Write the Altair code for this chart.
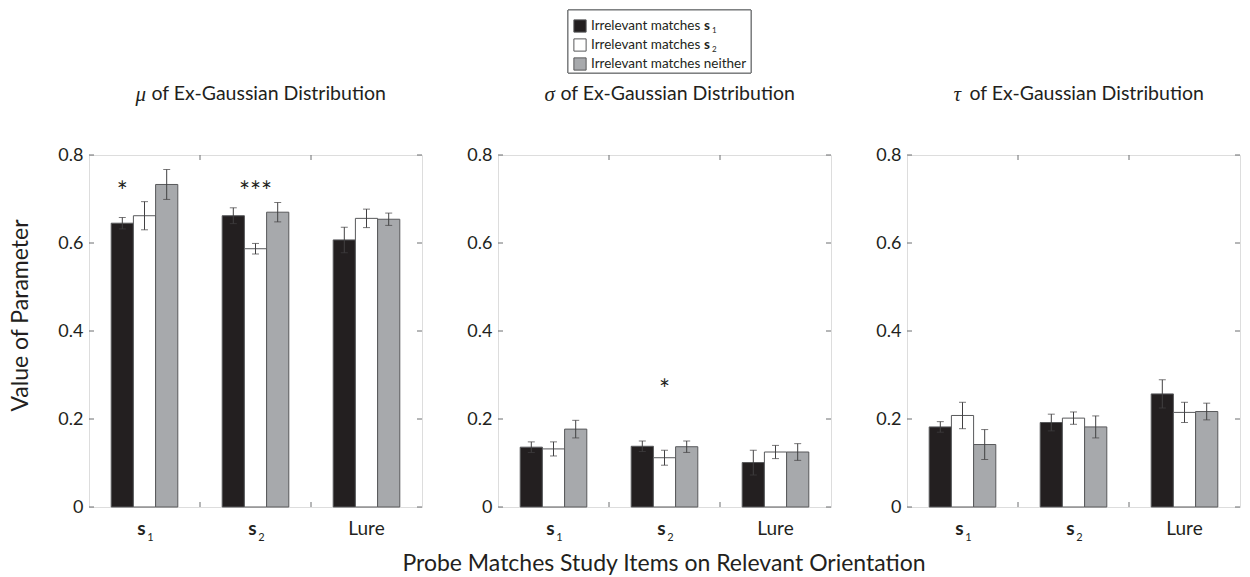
import altair as alt
import pandas as pd

FONT = "Lato"
SERIF = "Liberation Serif"
TXT = "#231f20"
AX = "#6d6e71"

groups = ["s1", "s2", "Lure"]
conds = ["s1", "s2", "neither"]
cond_colors = ["#231f20", "#ffffff", "#a7a9ac"]
cond_labels = ["Irrelevant matches", "Irrelevant matches", "Irrelevant matches neither"]
cond_bold = ["s", "s", ""]
cond_sub = ["1", "2", ""]
group_main = ["s", "s", "Lure"]
group_sub = ["1", "2", ""]
yticks = [0, 0.2, 0.4, 0.6, 0.8]

mu_vals = [0.645, 0.662, 0.733, 0.662, 0.587, 0.670, 0.607, 0.656, 0.654]
mu_err = [0.013, 0.032, 0.034, 0.018, 0.012, 0.022, 0.029, 0.021, 0.014]
sigma_vals = [0.136, 0.132, 0.177, 0.138, 0.112, 0.137, 0.101, 0.125, 0.125]
sigma_err = [0.012, 0.016, 0.020, 0.012, 0.017, 0.013, 0.028, 0.015, 0.019]
tau_vals = [0.182, 0.208, 0.142, 0.192, 0.202, 0.182, 0.257, 0.215, 0.217]
tau_err = [0.012, 0.030, 0.034, 0.019, 0.014, 0.025, 0.032, 0.023, 0.019]

greek = ["\u03bc", "\u03c3", "\u03c4"]
title_rest = "of Ex-Gaussian Distribution"
ytitle = "Value of Parameter"
xtitle = "Probe Matches Study Items on Relevant Orientation"

# significance markers: (group, cond or None, y, text)
mu_stars = [("s1", "s1", 0.73, "*"), ("s2", None, 0.73, "***")]
sigma_stars = [("s2", None, 0.28, "*")]
tau_stars = []

W = 333
H = 352
TICK = 5
SPACING = 76
TITLE_Y = -61


def make_panel(vals, errs, g, show_ytitle, stars, extra=()):
    df = pd.DataFrame({
        "group": [gr for gr in groups for _ in conds],
        "cond": conds * len(groups),
        "value": vals,
        "err": errs,
    })
    df["lo"] = df["value"] - df["err"]
    df["hi"] = df["value"] + df["err"]

    xenc = alt.X("group:N", sort=groups,
                 scale=alt.Scale(paddingInner=0.4, paddingOuter=0.2), axis=None)
    xoff = alt.XOffset("cond:N", sort=conds,
                       scale=alt.Scale(paddingInner=0, paddingOuter=0))
    yscale = alt.Scale(domain=[0, 0.8], nice=False, zero=True)
    axis_kw = dict(values=yticks,
                   labelExpr="datum.value == 0 ? '0' : format(datum.value, '.1f')",
                   domain=False, ticks=False, grid=False,
                   labelFontSize=18, labelPadding=6, labelColor=TXT,
                   labelFont=FONT)
    if show_ytitle:
        yaxis = alt.Axis(title=ytitle, titleFontSize=23, titleFontWeight="normal",
                         titleFont=FONT, titleColor=TXT, titlePadding=25,
                         titleY=160, **axis_kw)
    else:
        yaxis = alt.Axis(title=None, **axis_kw)

    bars = alt.Chart(df).mark_bar(stroke="#58595b", strokeWidth=1).encode(
        x=xenc, xOffset=xoff,
        y=alt.Y("value:Q", scale=yscale, axis=yaxis),
        color=alt.Color("cond:N", scale=alt.Scale(domain=conds, range=cond_colors),
                        legend=None),
    )
    rules = alt.Chart(df).mark_rule(color="#414042", strokeWidth=1).encode(
        x=xenc, xOffset=xoff, y=alt.Y("lo:Q"), y2="hi:Q")
    cap_hi = alt.Chart(df).mark_tick(color="#414042", thickness=1, size=7).encode(
        x=xenc, xOffset=xoff, y=alt.Y("hi:Q"))
    cap_lo = alt.Chart(df).mark_tick(color="#414042", thickness=1, size=7).encode(
        x=xenc, xOffset=xoff, y=alt.Y("lo:Q"))

    # inward frame ticks
    tdf = pd.DataFrame({"v": yticks})
    yt_left = alt.Chart(tdf).mark_rule(color=AX).encode(
        y="v:Q", x=alt.value(0), x2=alt.value(TICK))
    yt_right = alt.Chart(tdf).mark_rule(color=AX).encode(
        y="v:Q", x=alt.value(W - TICK), x2=alt.value(W))
    bdf = pd.DataFrame({"b": [W / 3, 2 * W / 3]})
    xt_bot = alt.Chart(bdf).mark_rule(color=AX).encode(
        x=alt.X("b:Q", scale=None), y=alt.value(H - TICK), y2=alt.value(H))
    xt_top = alt.Chart(bdf).mark_rule(color=AX).encode(
        x=alt.X("b:Q", scale=None), y=alt.value(0), y2=alt.value(TICK))

    # category labels
    ldf = pd.DataFrame({"group": groups, "main": group_main, "sub": group_sub})
    lab_bold = alt.Chart(ldf).transform_filter("datum.sub != ''").mark_text(
        font=FONT, fontSize=19, fontWeight="bold", color=TXT, dx=-3,
        baseline="middle").encode(x=xenc, y=alt.value(H + 22), text="main:N")
    lab_sub = alt.Chart(ldf).transform_filter("datum.sub != ''").mark_text(
        font=FONT, fontSize=11, color=TXT, dx=6, baseline="middle").encode(
        x=xenc, y=alt.value(H + 31), text="sub:N")
    lab_norm = alt.Chart(ldf).transform_filter("datum.sub == ''").mark_text(
        font=FONT, fontSize=19, color=TXT, baseline="middle").encode(
        x=xenc, y=alt.value(H + 22), text="main:N")

    # panel title: italic serif Greek letter + sans text
    tdf2 = pd.DataFrame({"g": [g], "t": [title_rest]})
    x0 = W / 2 - 120
    t_greek = alt.Chart(tdf2).mark_text(
        font=SERIF, fontStyle="italic", fontSize=21, color=TXT, align="left",
        baseline="middle").encode(x=alt.value(x0), y=alt.value(TITLE_Y + 1), text="g:N")
    t_rest = alt.Chart(tdf2).mark_text(
        font=FONT, fontSize=19.5, color=TXT, align="left",
        baseline="middle").encode(x=alt.value(x0 + 16), y=alt.value(TITLE_Y), text="t:N")

    layers = [bars, rules, cap_hi, cap_lo, yt_left, yt_right, xt_bot, xt_top,
              lab_bold, lab_sub, lab_norm, t_greek, t_rest]

    if stars:
        sdf = pd.DataFrame({
            "group": [s[0] for s in stars],
            "cond": [s[1] if s[1] else "" for s in stars],
            "y": [s[2] for s in stars],
            "t": [s[3] for s in stars],
        })
        s_off = alt.Chart(sdf).transform_filter("datum.cond != ''").mark_text(
            font=FONT, fontSize=26, color=TXT, baseline="middle", dy=7).encode(
            x=xenc, xOffset=xoff, y=alt.Y("y:Q", scale=yscale), text="t:N")
        s_mid = alt.Chart(sdf).transform_filter("datum.cond == ''").mark_text(
            font=FONT, fontSize=26, color=TXT, baseline="middle", dy=7).encode(
            x=xenc, y=alt.Y("y:Q", scale=yscale), text="t:N")
        layers += [s_off, s_mid]

    layers += list(extra)

    return alt.layer(*layers).properties(width=W, height=H)


# legend and shared x title drawn inside the middle panel (outside its plot area)
P2X = 90 + W + SPACING          # absolute left of the middle panel
BX0, BX1 = 569 - P2X, 752 - P2X
BY0, BY1 = -145, -82
ROW0, ROWSTEP = -129, 19
legdf = pd.DataFrame({"cond": conds, "label": cond_labels,
                      "bold": cond_bold, "sub": cond_sub})
legbase = alt.Chart(legdf).transform_window(
    rn="row_number()").transform_calculate(
    ypix=f"{ROW0} + {ROWSTEP} * (datum.rn - 1)")
ly = alt.Y("ypix:Q", scale=None, axis=None)
box = alt.Chart(legdf).mark_rect(fill="white", stroke=AX, strokeWidth=1).encode(
    x=alt.value(BX0), x2=alt.value(BX1), y=alt.value(BY0), y2=alt.value(BY1))
sq = legbase.mark_square(size=150, stroke="#58595b", strokeWidth=1,
                         opacity=1).encode(
    x=alt.value(BX0 + 12), y=ly,
    color=alt.Color("cond:N", scale=alt.Scale(domain=conds, range=cond_colors),
                    legend=None))
ltxt = legbase.mark_text(font=FONT, fontSize=13.5, color=TXT, align="left",
                         baseline="middle").encode(
    x=alt.value(BX0 + 23), y=ly, text="label:N")
lbold = legbase.transform_filter("datum.bold != ''").mark_text(
    font=FONT, fontSize=13.5, fontWeight="bold", color=TXT, align="left",
    baseline="middle").encode(x=alt.value(BX0 + 136), y=ly, text="bold:N")
lsub = legbase.transform_filter("datum.sub != ''").mark_text(
    font=FONT, fontSize=8, color=TXT, align="left", baseline="middle",
    dy=5).encode(x=alt.value(BX0 + 144), y=ly, text="sub:N")
xt_df = pd.DataFrame({"t": [xtitle]})
xt_txt = alt.Chart(xt_df).mark_text(font=FONT, fontSize=23, color=TXT,
                                    baseline="middle").encode(
    x=alt.value(665 - P2X), y=alt.value(H + 57), text="t:N")

p1 = make_panel(mu_vals, mu_err, greek[0], True, mu_stars)
p2 = make_panel(sigma_vals, sigma_err, greek[1], False, sigma_stars,
                extra=(box, sq, ltxt, lbold, lsub, xt_txt))
p3 = make_panel(tau_vals, tau_err, greek[2], False, tau_stars)

chart = alt.hconcat(p1, p2, p3, spacing=SPACING, bounds="flush").properties(
    padding={"left": 9, "top": 9, "right": 4, "bottom": 0}
).configure_view(stroke=AX, strokeWidth=1).configure(background="white")

chart.save("out.html", embed_options={"renderer": "svg", "actions": False})
